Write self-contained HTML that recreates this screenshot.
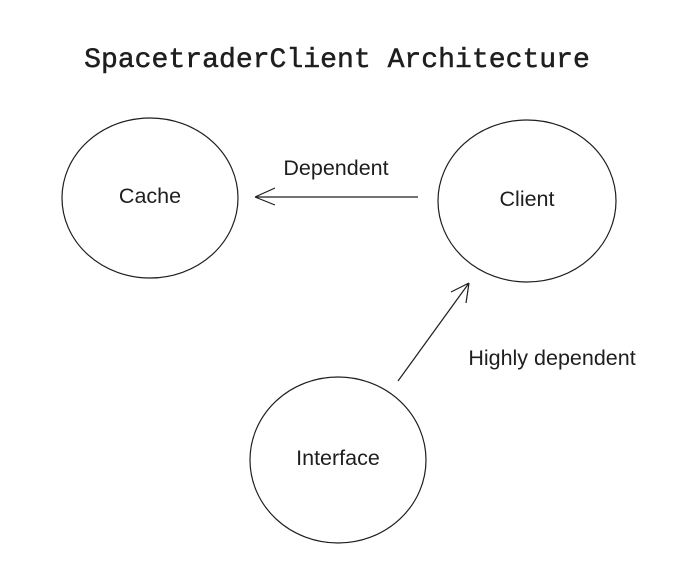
<!DOCTYPE html>
<html><head><style>body{margin:0;background:#fff}</style></head><body>
<svg width="699" height="566" xmlns="http://www.w3.org/2000/svg">
<rect width="699" height="566" fill="#fff"/>
<text x="337" y="67" text-anchor="middle" font-family="Liberation Mono, monospace" font-size="28.1" fill="#1e1e1e" stroke="#1e1e1e" stroke-width="0.5">SpacetraderClient Architecture</text>
<g fill="none" stroke="#1e1e1e" stroke-width="1.2">
<ellipse cx="150" cy="198" rx="88" ry="80"/>
<ellipse cx="527" cy="201" rx="89" ry="81"/>
<ellipse cx="338" cy="460" rx="88" ry="83"/>
<path d="M418 197 L255 197 M255 197 L275 188 M255 197 L275 205"/>
<path d="M398 381 L469 283 M469 283 L451 292 M469 283 L466 303"/>
</g>
<g font-family="Liberation Sans, sans-serif" font-size="21.5" fill="#1e1e1e" text-anchor="middle">
<text x="150" y="203">Cache</text>
<text x="527" y="206">Client</text>
<text x="338" y="465">Interface</text>
<text x="336" y="175">Dependent</text>
<text x="552" y="365">Highly dependent</text>
</g>
</svg>
</body></html>
